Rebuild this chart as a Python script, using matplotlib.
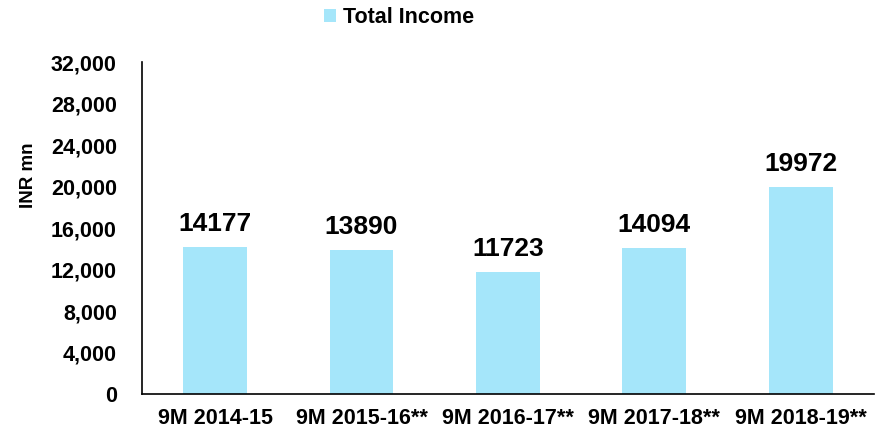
import numpy as np
import matplotlib.pyplot as plt
from matplotlib.ticker import FuncFormatter

plt.rcParams['font.family'] = ['Liberation Sans', 'DejaVu Sans']
plt.rcParams['font.weight'] = 'bold'

# data
periods = ['9M 2014-15', '9M 2015-16**', '9M 2016-17**', '9M 2017-18**', '9M 2018-19**']
total_income = [14177, 13890, 11723, 14094, 19972]
y_ticks = [0, 4000, 8000, 12000, 16000, 20000, 24000, 28000, 32000]

bar_color = '#A5E6FA'

fig = plt.figure(figsize=(8.81, 4.32), dpi=100)
ax = fig.add_axes([0.161, 0.088, 0.831, 0.768])

x = np.arange(len(periods))
bars = ax.bar(x, total_income, width=0.435, color=bar_color, label='Total Income')

for b, v in zip(bars, total_income):
    ax.annotate(str(v), (b.get_x() + b.get_width() / 2, v), xytext=(0, 8),
                textcoords='offset points', ha='center', va='bottom',
                fontsize=19, fontweight='bold')

ax.set_xlim(-0.5, len(periods) - 0.5)
ax.set_ylim(0, 32000)
ax.set_yticks(y_ticks)
ax.yaxis.set_major_formatter(FuncFormatter(lambda v, p: f'{int(v):,}'))
ax.set_xticks(x)
ax.set_xticklabels(periods)
ax.tick_params(axis='both', length=0, labelsize=15.5)
ax.tick_params(axis='y', pad=18)
ax.tick_params(axis='x', pad=10)

ax.spines['top'].set_visible(False)
ax.spines['right'].set_visible(False)
ax.spines['left'].set_linewidth(1.2)
ax.spines['bottom'].set_linewidth(1.2)

ax.set_ylabel('INR mn', fontsize=13.5, fontweight='bold')
ax.yaxis.set_label_coords(-0.143, 0.66)

fig.legend(loc='center', bbox_to_anchor=(0.453, 0.96), frameon=False,
           fontsize=15.5, handlelength=0.55, handleheight=0.55, handletextpad=0.3)

fig.savefig('out.png', dpi=100)
